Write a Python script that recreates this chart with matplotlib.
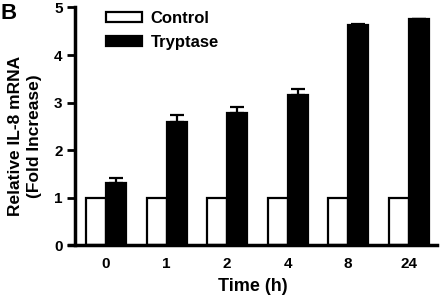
import numpy as np
import matplotlib
matplotlib.use('Agg')
import matplotlib.pyplot as plt

plt.rcParams['font.family'] = ['Liberation Sans', 'DejaVu Sans']
plt.rcParams['font.weight'] = 'bold'

# data
times = ['0', '1', '2', '4', '8', '24']
control = [1, 1, 1, 1, 1, 1]
tryptase = [1.32, 2.59, 2.78, 3.16, 4.63, 4.76]
tryptase_err = [0.09, 0.16, 0.13, 0.13, 0.02, 0.0]

fig = plt.figure(figsize=(4.42, 2.99), dpi=100)
ax = fig.add_axes([0.155, 0.179, 0.834, 0.796])

x = np.arange(len(times))
w = 0.33
ax.bar(x - w / 2, control, w, color='white', edgecolor='black', linewidth=1.6, label='Control')
ax.bar(x + w / 2, tryptase, w, color='black', edgecolor='black', linewidth=1.6, label='Tryptase')
ax.errorbar(x + w / 2, tryptase, yerr=[np.zeros(len(times)), tryptase_err], fmt='none',
            ecolor='black', elinewidth=1.6, capsize=5, capthick=1.6)

ax.set_xlim(-0.62, 5.47)
ax.set_ylim(0, 5)
ax.set_xticks(x)
ax.set_xticklabels(times)
ax.set_yticks([0, 1, 2, 3, 4, 5])
ax.tick_params(axis='x', length=0, labelsize=11, pad=8)
ax.tick_params(axis='y', length=6, width=2, labelsize=11, pad=3)
for s in ['top', 'right']:
    ax.spines[s].set_visible(False)
ax.spines['left'].set_position(('data', -0.51))
ax.spines['left'].set_linewidth(2.5)
ax.spines['bottom'].set_linewidth(2.5)

ax.set_xlabel('Time (h)', fontsize=13, fontweight='bold', labelpad=5)
ax.set_ylabel('Relative IL-8 mRNA\n(Fold Increase)', fontsize=12.5, fontweight='bold',
              linespacing=1.3)
ax.yaxis.set_label_coords(-0.072, 0.46)

ax.legend(loc='upper left', bbox_to_anchor=(0.06, 1.05), frameon=False, fontsize=12,
          handlelength=2.2, handleheight=0.55, labelspacing=0.55, handletextpad=0.5)

fig.text(0.002, 0.935, 'B', fontsize=16, fontweight='bold')

fig.savefig('out.png', dpi=100)
